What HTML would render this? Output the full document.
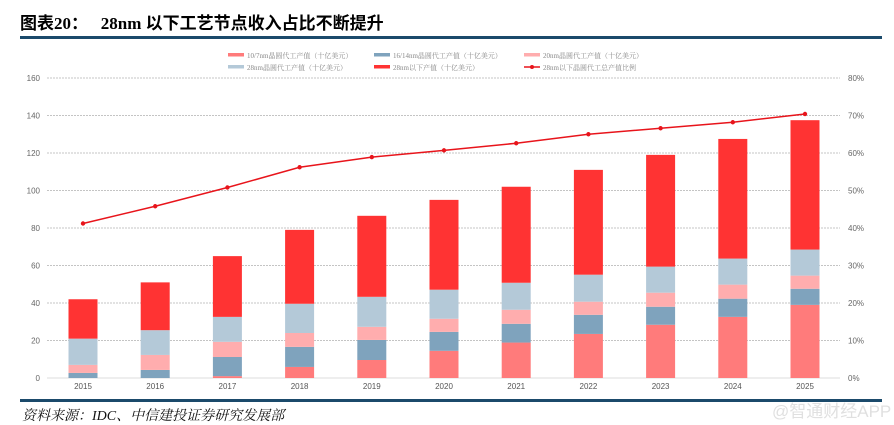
<!DOCTYPE html>
<html><head><meta charset="utf-8"><style>
body{margin:0;width:894px;height:424px;background:#fff;overflow:hidden;position:relative;font-family:"Liberation Sans","Noto Sans CJK SC",sans-serif}
#title{position:absolute;left:20px;top:9px;font-size:17px;font-weight:bold;color:#000;font-family:"Liberation Serif","Noto Sans CJK SC",sans-serif;white-space:pre}
#src{position:absolute;left:22px;top:405px;font-size:14px;font-style:italic;color:#111;font-family:"Liberation Serif","Noto Serif CJK SC",serif}
#wm{position:absolute;left:772px;top:397px;font-size:17px;color:#e0e0e0}
</style></head><body>
<div id="title">图表20：   28nm 以下工艺节点收入占比不断提升</div>
<svg id="c" width="894" height="424" style="position:absolute;left:0;top:0">
<rect x="20" y="36" width="862" height="3" fill="#1b4a6b"/>
<rect x="20" y="399" width="862" height="3" fill="#1b4a6b"/>
</svg>
<div id="src">资料来源：IDC、中信建投证券研究发展部</div>
<div id="wm">@智通财经APP</div>
<script>
const years=["2015","2016","2017","2018","2019","2020","2021","2022","2023","2024","2025"];
const s10=[0,0,1,5.9,9.6,14.5,18.9,23.5,28.4,32.6,39];
const s16=[2.7,4.3,10.2,10.7,10.7,10.1,10,10.2,9.6,9.7,8.6];
const s20=[4.3,8,8.1,7.4,7,7,7.5,7,7.5,7.5,7];
const s28=[14,13.2,13.3,15.6,16,15.5,14.4,14.4,13.9,13.9,13.9];
const sBelow=[21,25.5,32.4,39.4,43.2,47.9,51.2,55.9,59.6,63.8,69];
const ratio=[41.2,45.8,50.8,56.2,58.9,60.7,62.6,65,66.6,68.2,70.4];
const leftTicks=[0,20,40,60,80,100,120,140,160];
const rightTicks=["0%","10%","20%","30%","40%","50%","60%","70%","80%"];
const series=[
 {name:"10/7nm晶圆代工产值（十亿美元）",vals:s10,color:"#ff7b7b",key:"s10"},
 {name:"16/14nm晶圆代工产值（十亿美元）",vals:s16,color:"#7fa3bd",key:"s16"},
 {name:"20nm晶圆代工产值（十亿美元）",vals:s20,color:"#ffadae",key:"s20"},
 {name:"28nm晶圆代工产值（十亿美元）",vals:s28,color:"#b4c9d8",key:"s28"},
 {name:"28nm以下产值（十亿美元）",vals:sBelow,color:"#ff3333",key:"below"}];
const svg=document.getElementById('c');const NS="http://www.w3.org/2000/svg";
const X0=47,X1=840,Y0=378,Y1=78;
const yL=v=>Y0-(v/160)*(Y0-Y1);
const yR=p=>Y0-(p/80)*(Y0-Y1);
const xC=i=>83+i*72.2;
function mk(t,a,parent){const e=document.createElementNS(NS,t);for(const k in a)e.setAttribute(k,a[k]);(parent||svg).appendChild(e);return e;}
leftTicks.forEach((v,i)=>{
 const l=mk('line',{x1:X0,x2:X1,y1:yL(v),y2:yL(v),stroke:v==0?'#ddd':'#c4c4c4','stroke-width':1,'stroke-dasharray':v==0?'':'2,1'});
 
 
 const t=mk('text',{x:40,y:yL(v)+3,'text-anchor':'end','font-size':8,fill:'#666'});t.textContent=v;
 
 
 const r=mk('text',{x:848,y:yL(v)+3,'font-size':8,fill:'#666'});r.textContent=rightTicks[i];
 
 
});
years.forEach((yr,i)=>{
 let cum=0;
 series.forEach(s=>{
  const v=s.vals[i];
  const r=mk('rect',{x:xC(i)-14.5,width:29,y:yL(cum+v),height:yL(cum)-yL(cum+v),fill:s.color});
  
  
  cum+=v;
 });
 const t=mk('text',{x:xC(i),y:389,'text-anchor':'middle','font-size':8,fill:'#555'});t.textContent=yr;
 
 
});
const pl=mk('polyline',{points:ratio.map((p,i)=>xC(i)+','+yR(p)).join(' '),fill:'none',stroke:'#e8141b','stroke-width':1.5});


ratio.forEach((p,i)=>{const c=mk('circle',{cx:xC(i),cy:yR(p),r:2.2,fill:'#e8141b'});
 
 });
const leg=[[228,55,0],[374,55,1],[524,55,2],[228,67,3],[374,67,4],[524,67,5]];
const legNames=series.map(s=>s.name).concat(["28nm以下晶圆代工总产值比例"]);
leg.forEach(([x,y,k])=>{
 const g=mk('g',{});
 
 
 if(k<5) mk('rect',{x:x,y:y-2,width:16,height:3.5,fill:series[k].color},g);
 else{mk('line',{x1:x,x2:x+16,y1:y,y2:y,stroke:'#e8141b','stroke-width':1.5},g);mk('circle',{cx:x+8,cy:y,r:2,fill:'#e8141b'},g);}
 const t=mk('text',{x:x+19,y:y+3,'font-size':7,fill:'#888','font-family':'"Liberation Serif","Noto Serif CJK SC",serif'},g);t.textContent=legNames[k];
});
</script>
</body></html>
